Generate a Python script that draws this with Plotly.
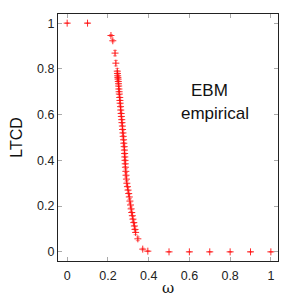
import plotly.graph_objects as go

omega = [0.0, 0.1, 0.215, 0.224, 0.235, 0.239,
         0.246, 0.247, 0.248, 0.249, 0.250, 0.251, 0.252, 0.253, 0.254, 0.255,
         0.256, 0.258, 0.259, 0.260, 0.262, 0.263, 0.265, 0.266, 0.268, 0.269,
         0.271, 0.272, 0.274, 0.275, 0.277, 0.278, 0.280, 0.281, 0.282, 0.283,
         0.284, 0.285, 0.286, 0.288, 0.289, 0.291, 0.293, 0.296, 0.299, 0.302,
         0.305, 0.308, 0.311, 0.314, 0.317, 0.320, 0.323, 0.327, 0.330, 0.333,
         0.336, 0.347, 0.371, 0.396, 0.5, 0.6, 0.7, 0.8, 0.9, 1.0]
ltcd = [1.0, 1.0, 0.946, 0.923, 0.869, 0.825,
        0.790, 0.780, 0.770, 0.762, 0.755, 0.745, 0.735, 0.725, 0.712, 0.700,
        0.690, 0.675, 0.662, 0.650, 0.635, 0.620, 0.605, 0.592, 0.578, 0.565,
        0.550, 0.535, 0.520, 0.505, 0.490, 0.475, 0.460, 0.445, 0.430, 0.415,
        0.400, 0.385, 0.370, 0.352, 0.335, 0.318, 0.300, 0.285, 0.270, 0.255,
        0.240, 0.222, 0.205, 0.188, 0.172, 0.158, 0.143, 0.128, 0.113, 0.098,
        0.085, 0.057, 0.012, 0.003, 0.0, 0.0, 0.0, 0.0, 0.0, 0.0]
ltcd_err = [0.0, 0.0, 0.004, 0.005, 0.012, 0.012,
            0.012, 0.012, 0.012, 0.012, 0.012, 0.012, 0.012, 0.012, 0.012, 0.012,
            0.012, 0.012, 0.012, 0.012, 0.012, 0.012, 0.012, 0.012, 0.012, 0.012,
            0.012, 0.012, 0.012, 0.012, 0.012, 0.012, 0.012, 0.012, 0.012, 0.012,
            0.012, 0.012, 0.012, 0.012, 0.012, 0.012, 0.012, 0.012, 0.012, 0.012,
            0.012, 0.012, 0.012, 0.012, 0.012, 0.012, 0.012, 0.012, 0.012, 0.012,
            0.010, 0.008, 0.004, 0.002, 0.0, 0.0, 0.0, 0.0, 0.0, 0.0]

tick_vals = [0, 0.2, 0.4, 0.6, 0.8, 1]
tick_text = ["0", "0.2", "0.4", "0.6", "0.8", "1"]

# page has an 8px body margin; figure pixel coords = screen coords - 8
OFF = 8
L, R, T, B = 58 - OFF, 300 - 278 + OFF, 14 - OFF, 300 - 261 + OFF
W = H = 300
pw = W - L - R
ph = H - T - B

def px(sx):
    return (sx - OFF - L) / pw

def py(sy):
    return 1 - (sy - OFF - T) / ph

fig = go.Figure()
fig.add_trace(go.Scatter(
    x=omega, y=ltcd, mode="markers",
    marker=dict(symbol="cross-thin", size=5, line=dict(color="#ff1010", width=0.9)),
    error_y=dict(type="data", array=ltcd_err, visible=True, color="rgba(255,60,60,0.6)",
                 thickness=1, width=2),
    showlegend=False,
))

axis_common = dict(
    showgrid=False, zeroline=False, showline=True, linecolor="#222", linewidth=1,
    mirror="ticks", ticks="inside", ticklen=4, tickcolor="#aaa", tickwidth=1,
    tickfont=dict(family="Liberation Sans, Arial", size=12.5, color="#222"),
    tickvals=tick_vals, ticktext=tick_text,
)

fig.update_layout(
    width=W, height=H,
    margin=dict(l=L, r=R, t=T, b=B, autoexpand=False),
    paper_bgcolor="white", plot_bgcolor="white",
    xaxis=dict(range=[-0.045, 1.035], **axis_common, ticklabelstandoff=3,
               title=dict(text="ω", font=dict(family="DejaVu Serif", size=15, color="#111"), standoff=0)),
    yaxis=dict(range=[-0.04, 1.04], **axis_common,
               title=dict(text="LTCD", font=dict(family="Liberation Sans, Arial", size=16, color="#111"), standoff=11)),
    annotations=[
        dict(x=px(209), y=py(91), xref="paper", yref="paper", text="EBM", showarrow=False,
             xanchor="center", yanchor="middle",
             font=dict(family="Liberation Sans, Arial", size=17, color="#111")),
        dict(x=px(215), y=py(113), xref="paper", yref="paper", text="empirical", showarrow=False,
             xanchor="center", yanchor="middle",
             font=dict(family="Liberation Sans, Arial", size=17, color="#111")),
    ],
)

fig.write_html("out.html")
